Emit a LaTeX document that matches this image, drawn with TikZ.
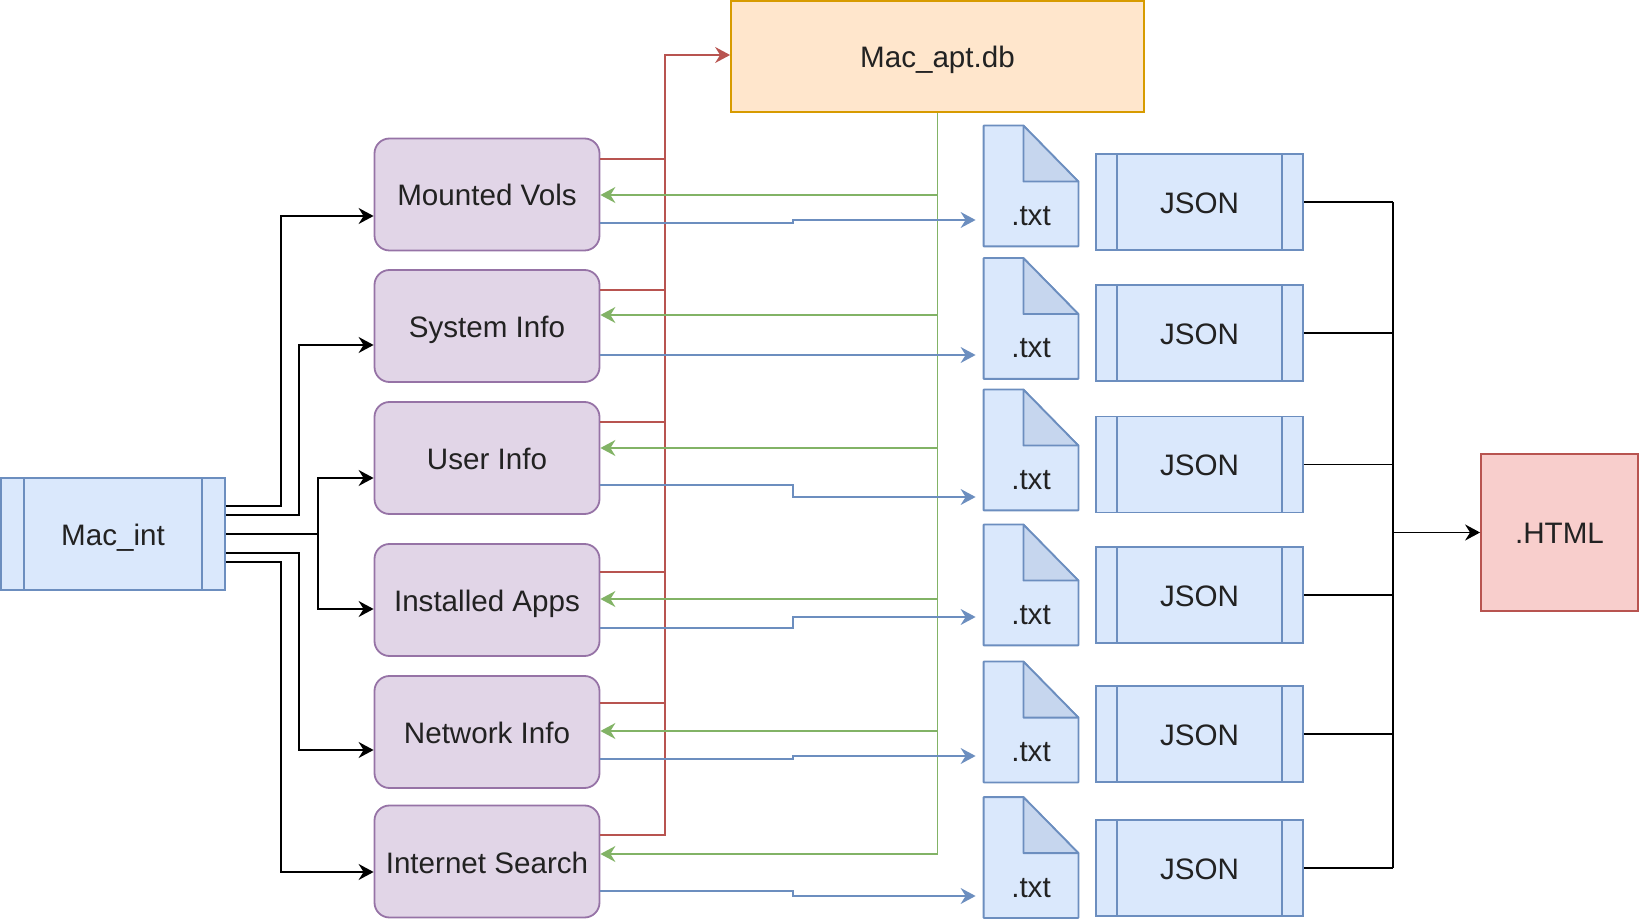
\documentclass[tikz,border=0pt]{standalone}
\usepackage{fontspec}
\setmainfont{Liberation Sans}
\usetikzlibrary{arrows.meta,calc}
\definecolor{bluefill}{HTML}{DAE8FC}
\definecolor{bluedraw}{HTML}{6C8EBF}
\definecolor{purpfill}{HTML}{E1D5E7}
\definecolor{purpdraw}{HTML}{9673A6}
\definecolor{orfill}{HTML}{FFE6CC}
\definecolor{ordraw}{HTML}{D79B00}
\definecolor{redfill}{HTML}{F8CECC}
\definecolor{reddraw}{HTML}{B85450}
\definecolor{grnline}{HTML}{82B366}
\definecolor{foldfill}{HTML}{C6D6EE}
\definecolor{txtcol}{HTML}{222222}
\begin{document}
\begin{tikzpicture}[x=0.5pt,y=-0.5pt,
  font=\fontsize{14.8pt}{17pt}\selectfont, text=txtcol,
  every node/.style={text height=11.5pt, text depth=0pt},
  proc/.style={draw=purpdraw, fill=purpfill, rounded corners=7.5pt, line width=0.9pt,
    minimum width=112.5pt, minimum height=56pt, inner sep=0},
  barbox/.style={draw=bluedraw, fill=bluefill, line width=0.9pt, inner sep=0,
    path picture={
      \draw[bluedraw, line width=0.9pt] ([xshift=#1]path picture bounding box.north west) -- ([xshift=#1]path picture bounding box.south west);
      \draw[bluedraw, line width=0.9pt] ([xshift=-#1]path picture bounding box.north east) -- ([xshift=-#1]path picture bounding box.south east);
    }},
  jsonbox/.style={barbox=10.5pt, minimum width=103.5pt, minimum height=48pt},
  notebox/.style={minimum width=47pt, minimum height=60pt, inner sep=0},
  blk/.style={line width=0.9pt, draw=black},
  redc/.style={line width=0.75pt, draw=reddraw},
  grnc/.style={line width=0.75pt, draw=grnline},
  bluc/.style={line width=0.75pt, draw=bluedraw},
  arr/.style={-{Stealth[length=7.5pt,width=8pt,inset=2.5pt]}},
]
\useasboundingbox (0,0) rectangle (1640,919);

% Mac_int
\node[barbox=11.5pt, minimum width=112pt, minimum height=56pt] (mac) at (113,534) {Mac\_int};

% processing boxes
\node[proc] (mv) at (487,194.5) {Mounted Vols};
\node[proc] (si) at (487,326) {System Info};
\node[proc] (ui) at (487,458) {User Info};
\node[proc] (ia) at (487,600) {Installed Apps};
\node[proc] (ni) at (487,732) {Network Info};
\node[proc] (is) at (487,861.5) {Internet Search};

% database
\node[draw=ordraw, fill=orfill, line width=0.9pt, minimum width=206.5pt, minimum height=55.5pt, inner sep=0] (db) at (937.5,56.5) {Mac\_apt.db};

% HTML
\node[draw=reddraw, fill=redfill, line width=0.9pt, minimum width=78.5pt, minimum height=78.5pt, inner sep=0] (html) at (1559.5,532.5) {.HTML};

% txt notes
\foreach \n/\y in {t1/186, t2/318.5, t3/450, t4/585, t5/722, t6/857.5}{
  \node[notebox] (\n) at (1031,\y) {};
  \draw[bluedraw, fill=bluefill, line width=0.9pt, line join=round]
    (\n.south west) -- (\n.north west) -- ([xshift=-27.5pt]\n.north east)
    -- ([yshift=-28pt]\n.north east) -- (\n.south east) -- cycle;
  \draw[bluedraw, fill=foldfill, line width=0.9pt, line join=round]
    ([xshift=-27.5pt]\n.north east) -- ([xshift=-27.5pt,yshift=-28pt]\n.north east)
    -- ([yshift=-28pt]\n.north east) -- cycle;
  \node (\n l) at ([yshift=-14pt]\n.center) {.txt};
}

% JSON boxes
\node[jsonbox] (j1) at (1199.5,202) {JSON};
\node[jsonbox] (j2) at (1199.5,333) {JSON};
\node[jsonbox] (j3) at (1199.5,464.5) {JSON};
\node[jsonbox] (j4) at (1199.5,595) {JSON};
\node[jsonbox] (j5) at (1199.5,734) {JSON};
\node[jsonbox] (j6) at (1199.5,868) {JSON};

% black connectors from Mac_int
\draw[blk,arr] (mac.east |- 0,506) -| (281,216) -- (mv.west |- 0,216);
\draw[blk,arr] (mac.east |- 0,515) -| (299,345) -- (si.west |- 0,345);
\draw[blk,arr] (mac.east |- 0,534) -| (318,478) -- (ui.west |- 0,478);
\draw[blk,arr] (318,534) |- (ia.west |- 0,609);
\draw[blk,arr] (mac.east |- 0,553) -| (299,750) -- (ni.west |- 0,750);
\draw[blk,arr] (mac.east |- 0,562) -| (281,872) -- (is.west |- 0,872);

% red connectors to database
\draw[redc] (mv.east |- 0,159) -- (665,159);
\draw[redc] (si.east |- 0,290) -- (665,290);
\draw[redc] (ui.east |- 0,422) -- (665,422);
\draw[redc] (ia.east |- 0,572) -- (665,572);
\draw[redc] (ni.east |- 0,703) -- (665,703);
\draw[redc,arr] (is.east |- 0,835) -| (665,55) -- (db.west |- 0,55);

% green connectors from database
\draw[grnc,arr] (db.south) |- (is.east |- 0,854);
\draw[grnc,arr] (db.south |- 0,195) -- (mv.east |- 0,195);
\draw[grnc,arr] (db.south |- 0,315) -- (si.east |- 0,315);
\draw[grnc,arr] (db.south |- 0,448) -- (ui.east |- 0,448);
\draw[grnc,arr] (db.south |- 0,599) -- (ia.east |- 0,599);
\draw[grnc,arr] (db.south |- 0,731) -- (ni.east |- 0,731);

% blue connectors to txt
\draw[bluc,arr,shorten >=4pt] (mv.east |- 0,223) -| (793,220) -- (t1.west |- 0,220);
\draw[bluc,arr,shorten >=4pt] (si.east |- 0,355) -- (t2.west |- 0,355);
\draw[bluc,arr,shorten >=4pt] (ui.east |- 0,485) -| (793,497) -- (t3.west |- 0,497);
\draw[bluc,arr,shorten >=4pt] (ia.east |- 0,628) -| (793,617) -- (t4.west |- 0,617);
\draw[bluc,arr,shorten >=4pt] (ni.east |- 0,759) -| (793,756) -- (t5.west |- 0,756);
\draw[bluc,arr,shorten >=4pt] (is.east |- 0,891) -| (793,896) -- (t6.west |- 0,896);

% JSON to HTML
\foreach \j in {j1,j2,j3,j4,j5,j6}{
  \draw[blk] (\j.east) -- (\j.east -| 1393,0);
}
\draw[blk] (j1.east -| 1393,0) -- (j6.east -| 1393,0);
\draw[blk,arr] (html.west -| 1393,0) -- (html.west);
\end{tikzpicture}
\end{document}
